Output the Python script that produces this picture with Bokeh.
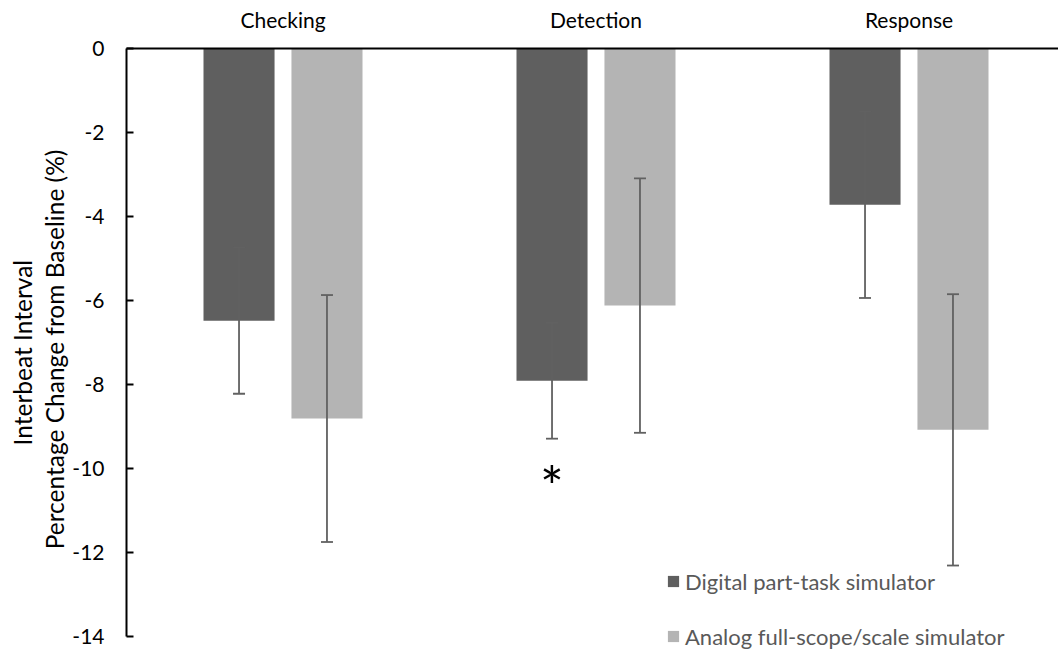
from bokeh.plotting import figure
from bokeh.models import (Range1d, FixedTicker, ColumnDataSource, Whisker, TeeHead,
                          Legend, LegendItem)
from bokeh.core.properties import value
from bokeh.embed import file_html
from bokeh.resources import INLINE

# Interbeat interval, percentage change from baseline (mean and error), per task phase
categories = ["Checking", "Detection", "Response"]
series_names = ["Digital part-task simulator", "Analog full-scope/scale simulator"]
digital_mean = [-6.48, -7.91, -3.72]
digital_err = [1.74, 1.38, 2.22]
analog_mean = [-8.81, -6.12, -9.08]
analog_err = [2.94, 3.03, 3.23]
digital_sig = ["", "*", ""]
y_ticks = [0, -2, -4, -6, -8, -10, -12, -14]

colors = ["#5f5f5f", "#b4b4b4"]
err_color = "#616161"
FONT = "Lato"

# category slots are one unit wide; the frame shows slightly less than three slots
slot_px = 313
frame_px = 932
bar_w = 0.227
offset = 0.1405
# vertical scale: 42 px per unit, frame runs to the bottom edge so the legend fits
px_per_unit = 42
frame_h = 650 - 48
y_min = -frame_h / px_per_unit

p = figure(width=1058, height=650,
           x_range=Range1d(0, frame_px / slot_px), y_range=Range1d(y_min, 0),
           x_axis_location="above", output_backend="svg", toolbar_location=None,
           min_border_left=126, min_border_right=0, min_border_top=48,
           min_border_bottom=0)
p.outline_line_color = None
p.xgrid.visible = False
p.ygrid.visible = False
p.background_fill_color = "white"

centers = [i + 0.5 for i in range(len(categories))]

renderers = []
for k, (means, errs) in enumerate([(digital_mean, digital_err), (analog_mean, analog_err)]):
    shift = -offset if k == 0 else offset
    xs = [c + shift for c in centers]
    src = ColumnDataSource(dict(
        x=xs, top=means,
        upper=[m + e for m, e in zip(means, errs)],
        lower=[m - e for m, e in zip(means, errs)],
    ))
    r = p.vbar(x="x", top="top", bottom=0, width=bar_w, source=src,
               fill_color=colors[k], line_color=None)
    renderers.append(r)
    w = Whisker(source=src, base="x", upper="upper", lower="lower", dimension="height",
                line_color=err_color, line_width=1.8, level="annotation",
                upper_head=TeeHead(size=12, line_color=err_color, line_width=1.8),
                lower_head=TeeHead(size=12, line_color=err_color, line_width=1.8))
    p.add_layout(w)

# significance marks under the digital bars
sig_x, sig_y, sig_t = [], [], []
for c, m, e, s in zip(centers, digital_mean, digital_err, digital_sig):
    if s:
        sig_x.append(c - offset)
        sig_y.append(m - e - 1.11)
        sig_t.append(s)
p.text(x=sig_x, y=sig_y, text=sig_t, text_font=value(FONT), text_font_size="56px",
       text_align="center", text_baseline="middle", text_color="black")

# top category axis
xa = p.xaxis[0]
xa.ticker = FixedTicker(ticks=centers)
xa.major_label_overrides = {c: name for c, name in zip(centers, categories)}
xa.major_tick_in = 0
xa.major_tick_out = 0
xa.minor_tick_line_color = None
xa.axis_line_color = "black"
xa.axis_line_width = 2
xa.major_label_standoff = 17
xa.major_label_text_font = FONT
xa.major_label_text_font_size = "21px"
xa.major_label_text_color = "black"

ya = p.yaxis[0]
ya.ticker = FixedTicker(ticks=y_ticks)
ya.major_label_overrides = {t: str(t) for t in y_ticks}
ya.bounds = (min(y_ticks), max(y_ticks))
ya.major_tick_in = 7
ya.major_tick_out = 0
ya.major_tick_line_color = "black"
ya.major_tick_line_width = 2
ya.minor_tick_line_color = None
ya.axis_line_color = "black"
ya.axis_line_width = 2
ya.major_label_standoff = 22
ya.major_label_text_font = FONT
ya.major_label_text_font_size = "21px"
ya.major_label_text_color = "black"
ya.axis_label = "Interbeat  Interval\nPercentage Change from Baseline (%)"
ya.axis_label_text_font = FONT
ya.axis_label_text_font_size = "24.5px"
ya.axis_label_text_font_style = "normal"
ya.axis_label_text_color = "black"
ya.axis_label_standoff = 0
ya.axis_label_text_line_height = 1.13

legend = Legend(items=[LegendItem(label=series_names[i], renderers=[renderers[i]])
                       for i in range(2)],
                location=(540, 0), orientation="vertical",
                glyph_width=14, glyph_height=14, label_standoff=5,
                label_text_font=FONT, label_text_font_size="22px",
                label_text_color="#595959", label_height=28, spacing=27,
                padding=0, margin=0, border_line_color=None,
                background_fill_alpha=0)
p.add_layout(legend)

open("out.html", "w").write(file_html(p, INLINE))
